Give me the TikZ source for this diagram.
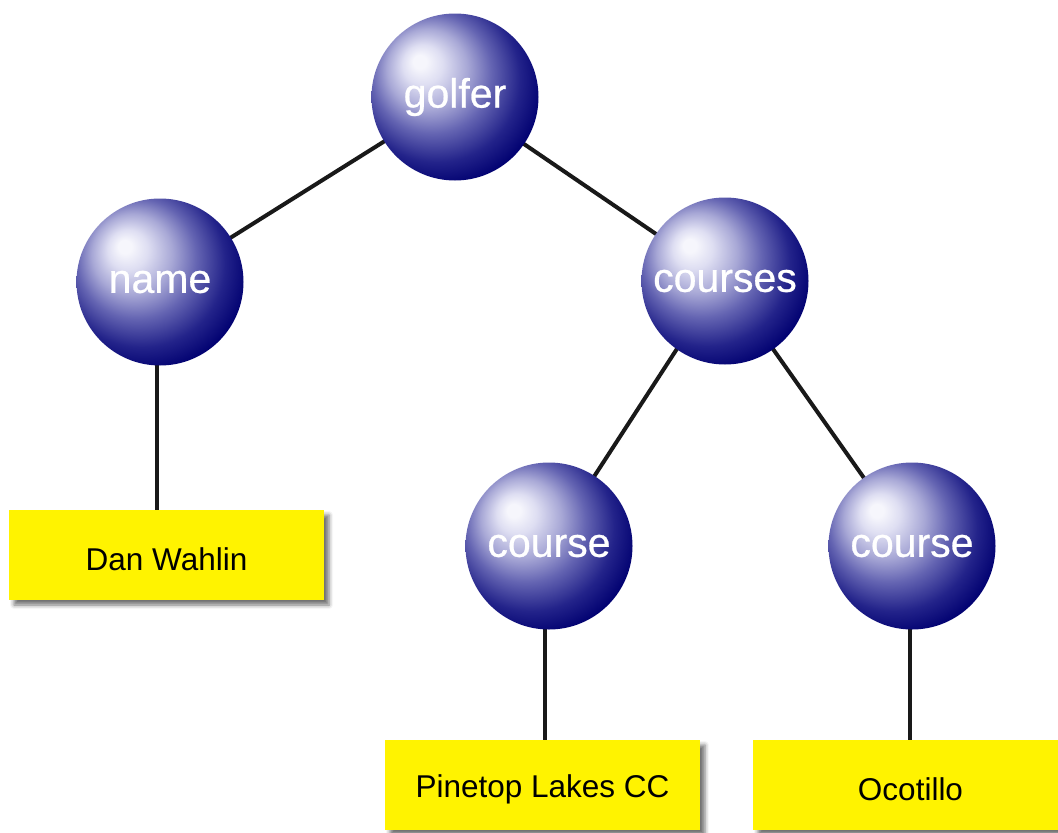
\documentclass[tikz,border=0pt]{standalone}
\usepackage{fontspec}
\setmainfont{Liberation Sans}
\newfontfamily\spherefont[FakeBold=0.6]{Liberation Sans}
\usetikzlibrary{shadows.blur,backgrounds}
\definecolor{sphA}{RGB}{246,246,252}
\definecolor{sphB}{RGB}{222,222,242}
\definecolor{sphC}{RGB}{168,168,214}
\definecolor{sphD}{RGB}{100,100,178}
\definecolor{sphE}{RGB}{35,35,138}
\definecolor{sphF}{RGB}{0,0,112}
\definecolor{boxyellow}{RGB}{255,243,0}
\pgfdeclareradialshading{sphereshade}{\pgfpoint{-11bp}{11bp}}{%
  color(0bp)=(sphA); color(2bp)=(sphA); color(6bp)=(sphB); color(12bp)=(sphC);
  color(18bp)=(sphD); color(25bp)=(sphE); color(31bp)=(sphF); color(50bp)=(sphF)}
\tikzset{
  sphere/.style={circle, minimum size=167pt, inner sep=0pt, shading=sphereshade,
    text=white, font=\spherefont\fontsize{41}{48}\selectfont},
  valuebox/.style={rectangle, minimum width=315pt, minimum height=90pt, inner sep=0pt,
    fill=boxyellow, text=black, font=\fontsize{31.5}{36}\selectfont,
    blur shadow={shadow xshift=5pt, shadow yshift=-5pt, shadow blur radius=4pt, shadow opacity=55}},
  link/.style={draw=black!90, line width=4pt}
}
\begin{document}
\begin{tikzpicture}[x=1pt,y=-1pt]
\useasboundingbox (0,0) rectangle (1058,833);
\node[sphere] (golfer) at (455,97) {golfer};
\node[sphere] (name) at (160,282) {name};
\node[sphere] (courses) at (725,281) {courses};
\node[sphere] (courseA) at (549,546) {course};
\node[sphere] (courseB) at (912,546) {course};
\node[valuebox] (dan) at (166.5,555) {\raisebox{-4pt}[\height][\depth]{Dan Wahlin}};
\node[valuebox] (pine) at (542.5,785) {\raisebox{-4pt}[\height][\depth]{Pinetop Lakes CC}};
\node[valuebox] (oco) at (910.5,785) {\raisebox{-4pt}[\height][\depth]{Ocotillo}};
\begin{pgfonlayer}{background}
\draw[link] (golfer.center) -- (name.center);
\draw[link] (golfer.center) -- (courses.center);
\draw[link] ([xshift=-4pt]courses.center) -- (courseA.center);
\draw[link] (courses.center) -- (courseB.center);
\draw[link] ([xshift=-3pt]name.center) -- ([xshift=-3pt]name.center |- dan.north);
\draw[link] ([xshift=-4pt]courseA.center) -- ([xshift=-4pt]courseA.center |- pine.north);
\draw[link] ([xshift=-2pt]courseB.center) -- ([xshift=-2pt]courseB.center |- oco.north);
\end{pgfonlayer}
\end{tikzpicture}
\end{document}
